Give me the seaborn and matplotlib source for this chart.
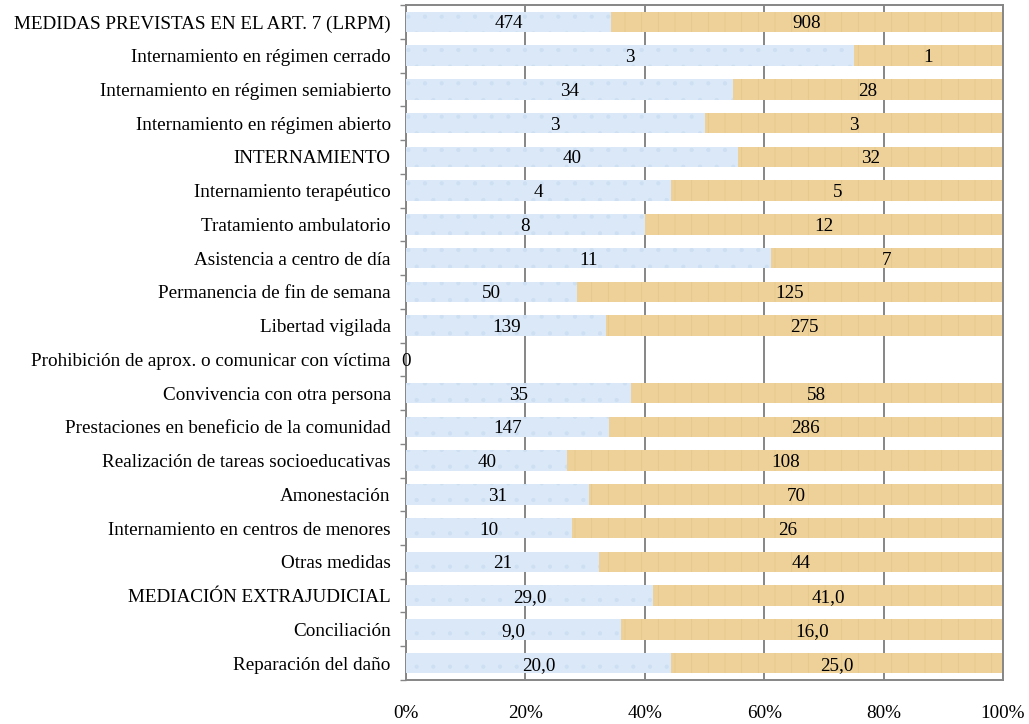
import matplotlib

matplotlib.use("Agg")
import matplotlib.pyplot as plt
import numpy as np
import pandas as pd
import seaborn as sns

categorias = [
    "MEDIDAS PREVISTAS EN EL ART. 7 (LRPM)",
    "Internamiento en régimen cerrado",
    "Internamiento en régimen semiabierto",
    "Internamiento en régimen abierto",
    "INTERNAMIENTO",
    "Internamiento terapéutico",
    "Tratamiento ambulatorio",
    "Asistencia a centro de día",
    "Permanencia de fin de semana",
    "Libertad vigilada",
    "Prohibición de aprox. o comunicar con víctima",
    "Convivencia con otra persona",
    "Prestaciones en beneficio de la comunidad",
    "Realización de tareas socioeducativas",
    "Amonestación",
    "Internamiento en centros de menores",
    "Otras medidas",
    "MEDIACIÓN EXTRAJUDICIAL",
    "Conciliación",
    "Reparación del daño",
]
serie_a = [474, 3, 34, 3, 40, 4, 8, 11, 50, 139, 0, 35, 147, 40, 31, 10, 21, 29.0, 9.0, 20.0]
serie_b = [908, 1, 28, 3, 32, 5, 12, 7, 125, 275, 0, 58, 286, 108, 70, 26, 44, 41.0, 16.0, 25.0]
decimales = [False] * 17 + [True] * 3

df = pd.DataFrame({"cat": categorias, "a": serie_a, "b": serie_b, "dec": decimales})
total = df["a"] + df["b"]
df["pct_a"] = np.where(total > 0, df["a"] / total.replace(0, np.nan) * 100, 0)
df["pct_tot"] = np.where(total > 0, 100, 0)

sns.set_theme(style="white")
plt.rcParams["font.family"] = ["Liberation Serif", "DejaVu Serif"]
plt.rcParams["hatch.linewidth"] = 0.5

fig = plt.figure(figsize=(10.29, 7.24), dpi=100)
ax = fig.add_axes([0.3946, 0.0608, 0.5801, 0.9322])

azul = "#dae8f8"
ocre = "#edd199"
sns.barplot(data=df, y="cat", x="pct_tot", color=ocre, orient="h", width=0.61,
            saturation=1, ax=ax, zorder=2)
sns.barplot(data=df, y="cat", x="pct_a", color=azul, orient="h", width=0.61,
            saturation=1, ax=ax, zorder=3)

# textura suave aproximada
n = len(categorias)
for k, p in enumerate(ax.patches):
    if k < n:
        p.set_hatch("|")
        p.set_edgecolor("#e4c68a")
    else:
        p.set_hatch(".")
        p.set_edgecolor("#cddff2")
    p.set_linewidth(0)

def fmt(v, dec):
    return f"{v:.1f}".replace(".", ",") if dec else f"{int(v)}"

fs = 13.8
for i, row in df.iterrows():
    if row["a"] + row["b"] == 0:
        ax.text(0, i, "0", ha="center", va="center_baseline", fontsize=fs, color="black", zorder=5)
        continue
    pa = row["pct_a"]
    ax.text(pa / 2, i, fmt(row["a"], row["dec"]), ha="center", va="center_baseline",
            fontsize=fs, color="black", zorder=5)
    ax.text(pa + (100 - pa) / 2, i, fmt(row["b"], row["dec"]), ha="center",
            va="center_baseline", fontsize=fs, color="black", zorder=5)

ax.set_xlim(0, 100)
ax.set_ylim(n - 0.5, -0.5)
ax.set_xticks([0, 20, 40, 60, 80, 100])
ax.set_xticklabels(["0%", "20%", "40%", "60%", "80%", "100%"])
ax.xaxis.grid(True, color="#868686", linewidth=1.4, zorder=1)
ax.set_axisbelow(True)
ax.set_xlabel("")
ax.set_ylabel("")
ax.tick_params(axis="x", length=0, pad=18, labelsize=fs, labelcolor="black")
ax.tick_params(axis="y", which="major", length=0, pad=11, labelsize=fs, labelcolor="black")
ax.set_yticks(np.arange(n + 1) - 0.5, minor=True)
ax.tick_params(axis="y", which="minor", length=4, color="#868686", width=1, left=True)
for s in ax.spines.values():
    s.set_color("#868686")
    s.set_linewidth(1.4)

fig.savefig("out.png", dpi=100)
